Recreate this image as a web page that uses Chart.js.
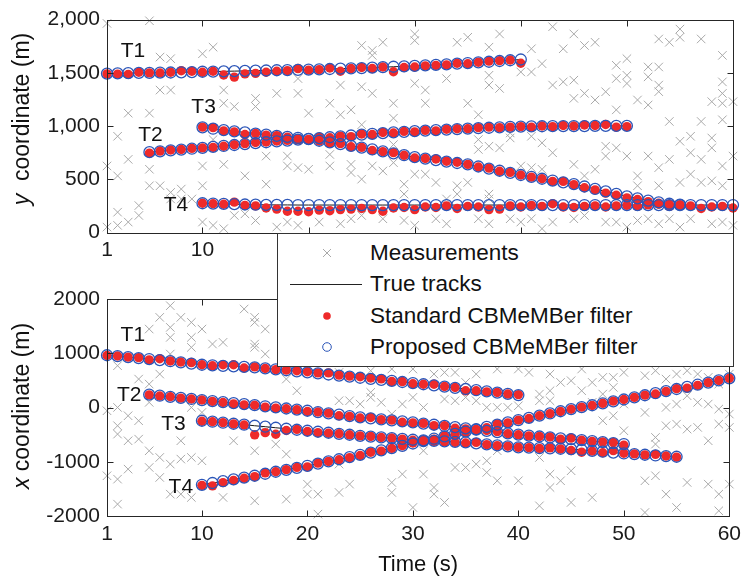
<!DOCTYPE html>
<html><head><meta charset="utf-8">
<script src="https://cdn.jsdelivr.net/npm/chart.js@4.4.1/dist/chart.umd.min.js"></script>
<style>
html,body{margin:0;padding:0;background:#fff;}
#wrap{position:relative;width:746px;height:582px;overflow:hidden;font-family:"Liberation Sans",Arial,sans-serif;}
#c1{position:absolute;left:0;top:0;}
#c2{position:absolute;left:0;top:260px;}
#legend{position:absolute;left:277px;top:233px;width:455px;height:132px;background:#fff;border:1px solid #333;box-sizing:content-box;}
.row{position:absolute;left:0;width:455px;height:30px;}
.row svg{position:absolute;left:0;top:0;}
.row span{position:absolute;left:92px;top:0;line-height:30px;font-size:22.5px;color:#111;white-space:nowrap;}
</style></head>
<body><div id="wrap">
<canvas id="c1" width="746" height="260"></canvas>
<canvas id="c2" width="746" height="322"></canvas>
<div id="legend">
 <div class="row" style="top:4px"><svg width="90" height="30"><path d="M45 11 L53 19 M53 11 L45 19" stroke="#a9a9a9" stroke-width="1" fill="none"/></svg><span>Measurements</span></div>
 <div class="row" style="top:35px"><svg width="90" height="30"><path d="M12 15.5 L84 15.5" stroke="#222" stroke-width="1"/></svg><span>True tracks</span></div>
 <div class="row" style="top:67px"><svg width="90" height="30"><circle cx="49" cy="15" r="3.8" fill="#ee2a2a"/></svg><span>Standard CBMeMBer filter</span></div>
 <div class="row" style="top:98px"><svg width="90" height="30"><circle cx="49" cy="15" r="4.3" fill="none" stroke="#2b55b8" stroke-width="1"/></svg><span>Proposed CBMeMBer filter</span></div>
</div>
</div>
<script>
// ---------------- DATA ----------------
const timeTicks = [1, 10, 20, 30, 40, 50, 60];
const yTicksTop = [0, 500, 1000, 1500, 2000];
const yTicksBottom = [-2000, -1000, 0, 1000, 2000];
const trackNames = ['T1', 'T2', 'T3', 'T4'];
const trackStart = [1, 5, 10, 10];

// y coordinate: true tracks (proposed estimates lie on them)
const yTrueT1 = [1493,1495,1497,1499,1500,1502,1503,1505,1507,1510,1512,1514,1516,1518,1520,1522,1524,1526,1528,1530,1533,1536,1539,1542,1545,1549,1553,1557,1561,1565,1570,1575,1580,1586,1592,1598,1604,1611,1618,1625];
const yTrueT2 = [755,763,771,779,787,795,804,813,822,831,840,848,856,864,872,879,887,895,903,911,919,926,933,940,946,952,957,962,967,972,976,980,984,988,992,995,997,998,999,1000,1000,1000,1001,1001,1002,1002];
const yTrueT3 = [988,975,962,950,940,929,919,908,898,888,877,862,846,830,814,798,780,762,744,726,708,694,680,666,653,640,620,600,580,560,540,522,505,488,471,455,432,409,386,363,340,320,300,283,270,262];
const yTrueT4 = [275,272,269,266,263,261,260,259,259,258,258,258,258,258,258,258,258,258,258,258,258,258,258,258,258,258,258,258,258,258,258,258,258,258,258,258,258,258,258,258,258,258,258,258,258,258,258,258,258,258,258];
// y coordinate: standard filter estimates
const yStdT1 = [1490,1488,1485,1505,1500,1498,1505,1520,1515,1505,1515,1480,1460,1490,1495,1505,1515,1520,1540,1525,1530,1545,1515,1540,1550,1540,1555,1510,1550,1555,1565,1570,1575,1590,1585,1600,1610,1615,1620,1590];
const yStdT2 = [745,765,775,780,790,795,800,810,825,835,845,850,860,865,870,875,895,890,905,900,925,920,940,935,950,945,960,955,970,975,975,985,990,985,990,995,990,1000,995,1005,1000,1010,1005,1015,990,995];
const yStdT3 = [990,985,955,945,920,930,915,910,895,880,870,860,840,835,805,800,770,760,750,725,700,695,690,670,660,640,615,605,575,565,540,520,505,480,480,450,420,400,370,350,325,310,290,275,265,255];
const yStdT4 = [275,270,265,285,255,250,230,220,200,200,195,210,205,215,220,225,215,200,230,235,215,240,235,250,225,245,240,215,220,250,240,255,245,270,240,235,245,250,240,250,255,245,260,265,245,260,250,225,240,245,230];

// x coordinate: true tracks (proposed estimates lie on them)
const xTrueT1 = [965,948,930,912,895,875,855,835,812,790,780,770,760,751,742,724,706,688,669,650,630,610,590,570,550,530,511,492,472,453,431,409,387,365,343,321,299,277,254,232];
const xTrueT2 = [240,220,200,180,160,140,121,102,84,66,46,25,5,-16,-36,-57,-81,-105,-130,-155,-179,-197,-215,-234,-252,-271,-293,-315,-337,-359,-382,-405,-428,-451,-474,-497,-514,-531,-548,-565,-580,-598,-616,-634,-652,-670];
const xTrueT3 = [-241,-259,-277,-296,-314,-333,-351,-370,-388,-407,-425,-444,-462,-481,-499,-518,-533,-547,-562,-576,-591,-601,-611,-620,-630,-640,-658,-676,-695,-713,-731,-737,-744,-750,-757,-763,-779,-795,-811,-827,-843,-855,-867,-880,-892,-904];
const xTrueT4 = [-1420,-1387,-1354,-1320,-1287,-1254,-1217,-1180,-1144,-1107,-1070,-1030,-990,-950,-910,-870,-828,-786,-744,-702,-660,-616,-572,-528,-484,-440,-398,-355,-313,-270,-228,-188,-147,-107,-66,-26,9,44,80,115,150,189,228,266,305,343,382,422,461,501,540];
// x coordinate: standard filter estimates
const xStdT1 = [960,950,930,920,880,900,860,840,830,790,770,790,790,730,750,720,700,690,680,660,640,640,600,580,570,545,530,480,480,440,430,430,390,370,310,310,290,280,250,240];
const xStdT2 = [235,215,200,175,160,140,115,95,70,50,45,10,-10,-20,-40,-70,-80,-100,-150,-160,-190,-180,-220,-230,-270,-280,-290,-330,-330,-380,-390,-410,-420,-440,-480,-500,-520,-530,-540,-580,-560,-600,-620,-630,-640,-690];
const xStdT3 = [-250,-260,-275,-300,-320,-500,-460,-490,-420,-400,-440,-460,-470,-480,-500,-520,-530,-550,-560,-580,-600,-600,-620,-630,-640,-650,-640,-680,-700,-710,-730,-735,-750,-740,-760,-790,-820,-800,-830,-790,-840,-850,-870,-860,-890,-910];
const xStdT4 = [-1430,-1440,-1380,-1340,-1300,-1270,-1200,-1180,-1140,-1100,-1090,-1020,-990,-960,-920,-880,-820,-800,-750,-700,-650,-620,-580,-520,-490,-450,-400,-370,-300,-280,-230,-200,-150,-110,-70,-30,10,40,80,120,150,190,230,250,300,350,360,410,460,500,540];

// measurements [time, value]
const measTop = [[5,1989],[1,1964],[6,1648],[7,1633],[10,1679],[11,1741],[6,1338],[7,1338],[3,1121],[2,904],[3,687],[5,1121],[5,594],[5,439],[6,439],[7,377],[7,315],[12,1338],[12,1214],[13,1183],[15,1260],[15,1183],[17,1307],[19,1446],[19,1307],[20,1121],[18,718],[18,625],[19,609],[20,594],[16,718],[16,454],[14,532],[12,640],[10,625],[10,439],[8,408],[8,315],[4,253],[4,160],[2,191],[2,67],[3,98],[2,532],[1,625],[10,98],[11,67],[12,36],[13,160],[14,175],[15,113],[17,51],[18,98],[19,67],[1,51],[9,315],[11,873],
[25,1757],[26,1710],[26,1664],[27,1787],[30,1865],[30,1803],[34,1787],[35,1834],[37,1741],[38,1865],[23,1385],[25,1369],[26,1307],[30,1400],[31,1338],[33,1446],[37,1477],[37,1385],[38,1353],[40,1508],[22,1214],[24,1152],[28,1214],[28,1074],[31,1214],[35,1214],[36,1106],[23,1106],[25,1012],[22,733],[22,625],[24,640],[24,563],[26,625],[25,501],[27,578],[28,656],[28,826],[30,548],[31,548],[32,470],[34,439],[35,470],[36,780],[36,873],[37,811],[38,795],[39,935],[39,888],[40,625],[29,454],[29,361],[33,315],[34,361],[37,361],[37,315],[21,98],[23,82],[24,129],[25,160],[27,129],[29,113],[30,67],[32,129],[33,82],[36,129],[37,82],[39,129],[40,98],
[43,1933],[45,1865],[46,1757],[47,1787],[44,1726],[41,1726],[42,1586],[41,1508],[43,1385],[44,1415],[45,1431],[49,1571],[49,1446],[50,1633],[50,1477],[50,1400],[52,1555],[52,1462],[53,1555],[53,1385],[53,1323],[55,1911],[55,1834],[54,1787],[53,1818],[57,1818],[59,1664],[45,1260],[46,1307],[47,1245],[48,1322],[49,1152],[51,1245],[52,1198],[58,1229],[59,1415],[59,1307],[59,1214],[59,1059],[60,1229],[54,1043],[57,1043],[41,904],[42,842],[43,749],[41,609],[42,594],[45,640],[46,532],[47,594],[48,811],[48,718],[49,795],[50,718],[51,532],[52,718],[53,609],[54,687],[55,857],[56,904],[56,749],[57,687],[58,888],[58,795],[59,625],[60,718],[51,439],[53,439],[55,470],[56,548],[57,470],[58,485],[59,439],[41,129],[42,36],[43,98],[45,129],[46,160],[48,98],[49,98],[50,51],[51,113],[52,129],[53,82],[54,129],[55,51],[56,129],[58,82],[59,98],[60,67]];
const measBottom = [[7,1877],[8,1662],[6,1662],[14,1816],[15,1662],[15,1570],[16,1447],[5,1447],[7,1478],[7,1294],[9,1570],[10,1447],[9,1294],[11,1171],[12,1202],[15,1171],[15,1110],[16,987],[9,1110],[7,987],[2,772],[4,526],[5,434],[6,618],[18,526],[19,311],[2,4],[3,-149],[1,-57],[4,-241],[5,97],[9,4],[10,-88],[10,127],[2,-333],[2,-487],[3,-610],[4,-579],[5,-794],[6,-917],[7,-1039],[8,-610],[8,-947],[9,-917],[10,-978],[5,-1101],[6,-1285],[3,-1132],[2,-1316],[1,-1254],[7,-1592],[8,-1592],[9,-1653],[12,-1653],[15,-1715],[18,-1684],[20,-1408],[20,-1592],[2,-1776],[13,-610],[15,-794],[17,-671],[16,-425],[18,-855],
[21,618],[23,649],[26,680],[28,711],[30,711],[32,618],[33,649],[34,649],[35,465],[36,618],[38,711],[40,711],[23,127],[24,127],[25,66],[26,281],[26,189],[27,97],[29,66],[30,189],[31,4],[33,158],[34,127],[35,189],[36,127],[37,4],[38,4],[39,4],[40,35],[28,-118],[31,-794],[34,-1101],[35,-1101],[36,-1039],[37,-978],[38,-794],[23,-1039],[23,-1561],[24,-1408],[28,-1377],[28,-1561],[29,-1224],[31,-1224],[32,-1469],[32,-1592],[33,-1745],[37,-1193],[38,-1346],[40,-1346],[21,-1592],[30,-1838],[21,-1960],
[41,649],[43,618],[44,465],[45,496],[46,711],[47,465],[48,557],[49,557],[50,649],[52,588],[53,680],[54,526],[55,618],[56,680],[57,618],[58,557],[59,434],[60,618],[42,250],[43,311],[42,127],[43,127],[46,311],[47,97],[48,250],[49,373],[50,66],[52,-88],[54,4],[55,66],[56,219],[57,97],[58,66],[59,-26],[60,-118],[48,-241],[49,-149],[50,-425],[54,-333],[55,-303],[56,-395],[57,-364],[58,-610],[59,-303],[60,-364],[53,-548],[53,-671],[42,-917],[43,-1224],[44,-1346],[45,-1162],[43,-1469],[45,-1745],[47,-1653],[52,-1346],[53,-1254],[54,-1592],[56,-1377],[58,-1408],[59,-1592],[60,-1408],[42,-1807],[55,-1838],[59,-1899],[52,-1930]];

// track label anchors (data coordinates)
const labelTopTime = [3.45, 5.1, 10.1, 7.5];
const labelTopValue = [1707, 916, 1177, 255];
const labelBottomTime = [3.45, 3.1, 7.3, 8.0];
const labelBottomValue = [1337, 232, -302, -1468];

// ---------------- CHART ----------------
const FONT = '"Liberation Sans", Arial, Helvetica, sans-serif';
const pts = (start, vals) => vals.map((v, i) => ({x: start + i, y: v}));

function buildDatasets(trueArr, stdArr, meas) {
  const ds = [];
  ds.push({type:'scatter', label:'Measurements', data: meas.map(m => ({x:m[0], y:m[1]})),
    pointStyle:'crossRot', pointRadius:6, borderColor:'#a9a9a9', backgroundColor:'#a9a9a9',
    borderWidth:1, order:4, clip:false});
  trueArr.forEach((arr, k) => ds.push({type:'line', label:'True tracks', data: pts(trackStart[k], arr),
    borderColor:'#1a1a1a', borderWidth:1, pointRadius:0, fill:false, tension:0, order:3}));
  stdArr.forEach((arr, k) => ds.push({type:'scatter', label:'Standard CBMeMBer filter', data: pts(trackStart[k], arr),
    pointStyle:'circle', pointRadius:4.7, backgroundColor:'#ee2a2a', borderColor:'#ee2a2a', borderWidth:0, order:2, clip:false}));
  trueArr.forEach((arr, k) => ds.push({type:'scatter', label:'Proposed CBMeMBer filter', data: pts(trackStart[k], arr),
    pointStyle:'circle', pointRadius:5.5, backgroundColor:'rgba(0,0,0,0)', borderColor:'#2b55b8', borderWidth:1.3, order:1, clip:false}));
  return ds;
}

const decoPlugin = {
  id: 'deco',
  afterDraw(chart, args, o) {
    const {ctx, chartArea: a, scales} = chart;
    const xs = scales.x, ys = scales.y;
    ctx.save();
    ctx.strokeStyle = '#262626'; ctx.lineWidth = 1;
    const L = Math.round(a.left) + 0.5, R = Math.round(a.right) + 0.5;
    const T = Math.round(a.top) + 0.5, B = Math.round(a.bottom) + 0.5;
    ctx.strokeRect(L, T, R - L, B - T);
    ctx.beginPath();
    xs.ticks.forEach(t => { const p = Math.round(xs.getPixelForValue(t.value)) + 0.5;
      ctx.moveTo(p, B); ctx.lineTo(p, B - 6); ctx.moveTo(p, T); ctx.lineTo(p, T + 6); });
    ys.ticks.forEach(t => { const p = Math.round(ys.getPixelForValue(t.value)) + 0.5;
      ctx.moveTo(L, p); ctx.lineTo(L + 6, p); ctx.moveTo(R, p); ctx.lineTo(R - 6, p); });
    ctx.stroke();
    ctx.fillStyle = '#111'; ctx.textAlign = 'center'; ctx.textBaseline = 'middle';
    ctx.font = '21px ' + FONT;
    trackNames.forEach((n, i) => ctx.fillText(n, xs.getPixelForValue(o.lt[i]), ys.getPixelForValue(o.lv[i])));
    if (o.xTitle) {
      ctx.font = '22px ' + FONT;
      ctx.fillText(o.xTitle, (a.left + a.right) / 2, a.bottom + o.xTitleOff);
    }
    ctx.translate(o.titleX, o.titleY); ctx.rotate(-Math.PI / 2);
    const f1 = 'italic 23px ' + FONT, f2 = '23px ' + FONT;
    ctx.font = f1; const w1 = ctx.measureText(o.v).width;
    ctx.font = f2; const w2 = ctx.measureText(o.rest).width;
    const x0 = -(w1 + w2) / 2;
    ctx.textAlign = 'left';
    ctx.font = f1; ctx.fillText(o.v, x0, 0);
    ctx.font = f2; ctx.fillText(o.rest, x0 + w1, 0);
    ctx.restore();
  }
};

function makeChart(id, H, areaTop, areaBottom, yMin, yMax, yFmt, xFmt, datasets, deco) {
  return new Chart(document.getElementById(id), {
    data: {datasets},
    options: {
      responsive:false, animation:false, devicePixelRatio:1,
      layout:{padding:{left:0, right:13, top:areaTop, bottom:0}},
      plugins:{legend:{display:false}, tooltip:{enabled:false}, deco},
      scales:{
        x:{type:'linear', min:1, max:60,
          afterBuildTicks: s => { s.ticks = timeTicks.map(v => ({value:v})); },
          afterFit: s => { s.height = H - areaBottom; },
          grid:{display:false, drawTicks:false}, border:{display:false},
          ticks:{font:{family:FONT, size:21}, color:'#1a1a1a', padding:5, maxRotation:0, autoSkip:false, callback: xFmt}},
        y:{type:'linear', min:yMin, max:yMax,
          afterBuildTicks: s => { s.ticks = (yMin === 0 ? yTicksTop : yTicksBottom).map(v => ({value:v})); },
          afterFit: s => { s.width = 107; },
          grid:{display:false, drawTicks:false}, border:{display:false},
          ticks:{font:{family:FONT, size:21}, color:'#1a1a1a', padding:7, callback: yFmt}}
      }
    },
    plugins:[decoPlugin]
  });
}

// top panel: time labels beyond 10 sit under the legend box
makeChart('c1', 260, 17.5, 232.5, 0, 2000,
  v => v.toLocaleString('en-US'),
  v => (v <= 10 ? String(v) : ''),
  buildDatasets([yTrueT1, yTrueT2, yTrueT3, yTrueT4], [yStdT1, yStdT2, yStdT3, yStdT4], measTop),
  {lt:labelTopTime, lv:labelTopValue, titleX:23, titleY:119, v:'y', rest:'  coordinate (m)'});

makeChart('c2', 322, 39, 256.3, -2000, 2000,
  v => String(v),
  v => String(v),
  buildDatasets([xTrueT1, xTrueT2, xTrueT3, xTrueT4], [xStdT1, xStdT2, xStdT3, xStdT4], measBottom),
  {lt:labelBottomTime, lv:labelBottomValue, titleX:23, titleY:146, v:'x', rest:' coordinate (m)', xTitle:'Time (s)', xTitleOff:49});
</script>
</body></html>
